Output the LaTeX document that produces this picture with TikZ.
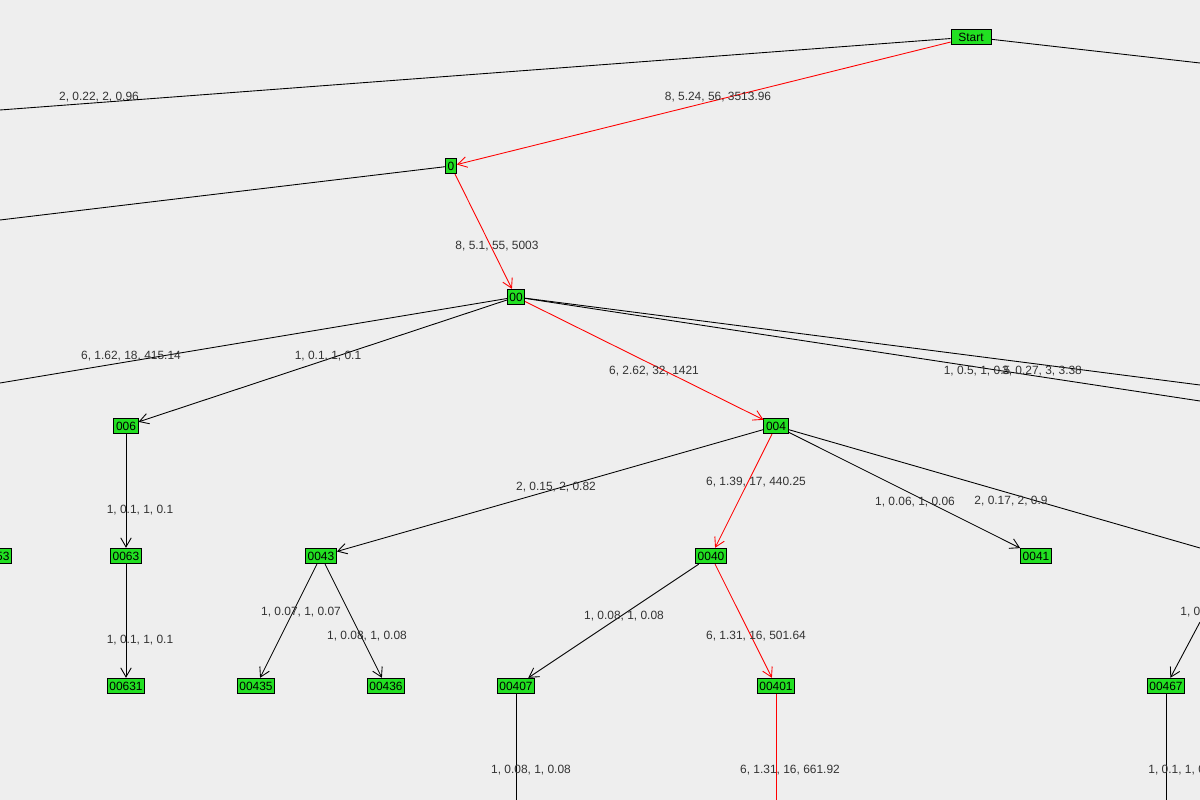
\documentclass[tikz,border=0pt]{standalone}
\usepackage{fontspec}
\setmainfont{Liberation Sans}
\usetikzlibrary{arrows.meta}
\definecolor{bg}{HTML}{EEEEEE}
\definecolor{ng}{HTML}{22E022}
\definecolor{lt}{HTML}{333333}
\begin{document}
\begin{tikzpicture}[x=0.02cm,y=-0.02cm,line width=0.5pt,
  nd/.style={draw=black,fill=ng,inner xsep=1.2pt,inner ysep=0pt,minimum height=0.31cm,font=\fontsize{6.8}{7}\selectfont},
  lb/.style={text=lt,font=\fontsize{6.8}{7}\selectfont,inner sep=0pt},
  ar/.style={-{Straight Barb[angle=60:6pt]}},
  rd/.style={draw=red}]
\fill[bg] (0,0) rectangle (1200,800);
\useasboundingbox (0,0) rectangle (1200,800);
\clip (0,0) rectangle (1200,800);
% nodes
\node[nd,minimum width=0.8cm] (S) at (971,37) {Start};
\node[nd] (n0) at (451,166) {0};
\node[nd] (n00) at (516,297) {00};
\node[nd] (n006) at (126,426) {006};
\node[nd] (n0063) at (126,556) {0063};
\node[nd] (n00631) at (126,686) {00631};
\node[nd] (n0043) at (321,556) {0043};
\node[nd] (n00435) at (256,686) {00435};
\node[nd] (n00436) at (386,686) {00436};
\node[nd] (n004) at (776,426) {004};
\node[nd] (n0040) at (711,556) {0040};
\node[nd] (n0041) at (1036,556) {0041};
\node[nd] (n00407) at (516,686) {00407};
\node[nd] (n00401) at (776,686) {00401};
\node[nd] (n00467) at (1166,686) {00467};
\node[nd,anchor=east] (n0053) at (12,556) {0053};
% free ends
\coordinate (a1) at (0,110);
\coordinate (a2) at (1200,63);
\coordinate (a3) at (0,220);
\coordinate (a4) at (0,383);
\coordinate (a5) at (1200,385);
\coordinate (a6) at (1200,401);
\coordinate (a7) at (1200,548);
\coordinate (a8) at (1200,622);
\coordinate (a9) at (516,800);
\coordinate (a10) at (776,800);
\coordinate (a11) at (1166,800);
% edges
\draw (S) -- (a1);
\draw (S) -- (a2);
\draw[rd,ar] (S) -- (n0);
\draw (n0) -- (a3);
\draw[rd,ar] (n0) -- (n00);
\draw (n00) -- (a4);
\draw[ar] (n00) -- (n006);
\draw[rd,ar] (n00) -- (n004);
\draw (n00) -- (a5);
\draw (n00) -- (a6);
\draw[ar] (n006) -- (n0063);
\draw[ar] (n0063) -- (n00631);
\draw[ar] (n004) -- (n0043);
\draw[rd,ar] (n004) -- (n0040);
\draw[ar] (n004) -- (n0041);
\draw (n004) -- (a7);
\draw[ar] (n0043) -- (n00435);
\draw[ar] (n0043) -- (n00436);
\draw[ar] (n0040) -- (n00407);
\draw[rd,ar] (n0040) -- (n00401);
\draw[ar] (a8) -- (n00467);
\draw (n00407) -- (a9);
\draw[rd] (n00401) -- (a10);
\draw (n00467) -- (a11);
% labels
\node[lb] (l1) at (99,97) {2, 0.22, 2, 0.96};
\node[lb] (l2) at (718,97) {8, 5.24, 56, 3513.96};
\node[lb] (l3) at (497,246) {8, 5.1, 55, 5003};
\node[lb] (l4) at (131,356) {6, 1.62, 18, 415.14};
\node[lb] (l5) at (328,356) {1, 0.1, 1, 0.1};
\node[lb] (l6) at (654,371) {6, 2.62, 32, 1421};
\node[lb] (l7) at (977,371) {1, 0.5, 1, 0.5};
\node[lb] (l8) at (1042,371) {3, 0.27, 3, 3.38};
\node[lb] (l9) at (140,510) {1, 0.1, 1, 0.1};
\node[lb] (l10) at (140,640) {1, 0.1, 1, 0.1};
\node[lb] (l11) at (556,487) {2, 0.15, 2, 0.82};
\node[lb] (l12) at (756,482) {6, 1.39, 17, 440.25};
\node[lb] (l13) at (915,502) {1, 0.06, 1, 0.06};
\node[lb] (l14) at (1011,501) {2, 0.17, 2, 0.9};
\node[lb] (l15) at (301,612) {1, 0.07, 1, 0.07};
\node[lb] (l16) at (367,636) {1, 0.08, 1, 0.08};
\node[lb] (l17) at (624,616) {1, 0.08, 1, 0.08};
\node[lb] (l18) at (756,636) {6, 1.31, 16, 501.64};
\node[lb] (l19) at (531,770) {1, 0.08, 1, 0.08};
\node[lb] (l20) at (790,770) {6, 1.31, 16, 661.92};
\node[lb,anchor=west] (l21) at (1180,612) {1, 0.1, 1, 0.1};
\node[lb,anchor=west] (l22) at (1148,770) {1, 0.1, 1, 0.1};
\end{tikzpicture}
\end{document}
